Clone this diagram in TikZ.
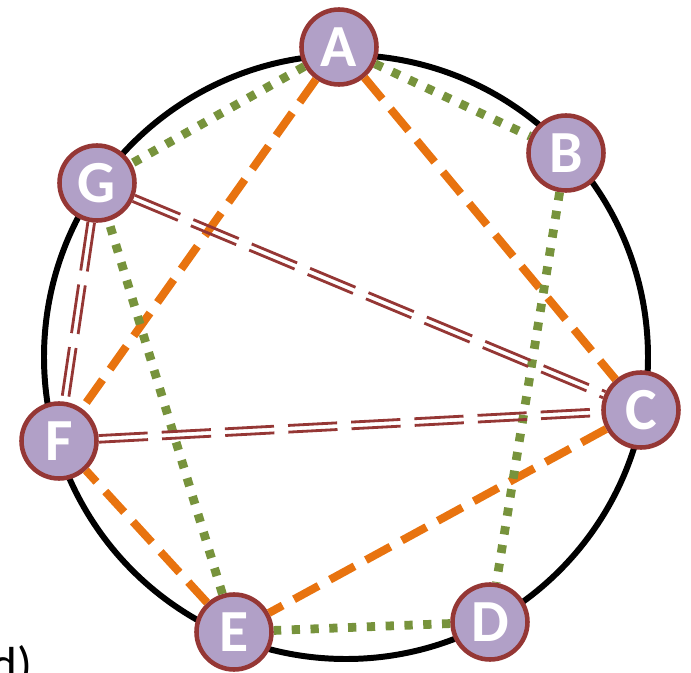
\documentclass[tikz,border=0pt]{standalone}
\usepackage{fontspec}
\setmainfont{Carlito}
\definecolor{ring}{HTML}{000000}
\definecolor{lilac}{HTML}{B1A0C7}
\definecolor{wine}{HTML}{953735}
\definecolor{olive}{HTML}{77933C}
\definecolor{amber}{HTML}{E8730F}
\tikzset{vertex/.style={circle,draw=wine,fill=lilac,line width=2.6pt,minimum size=1.5cm,
 inner sep=0pt,text=white,font=\fontsize{34}{34}\selectfont\bfseries},
 dotted edge/.style={draw=olive,line width=5pt,dash pattern=on 4.7pt off 6pt},
 dashed edge/.style={draw=amber,line width=4.6pt,dash pattern=on 15.9pt off 7.4pt},
 twin line/.style={draw=wine,line width=1.6pt,dash pattern=on 28pt off 8pt},
 twin/.style={postaction={twin line,transform canvas={shift={(#1:1.9pt)}}},
  postaction={twin line,transform canvas={shift={(#1:-1.9pt)}}}}}

\begin{document}
\begin{tikzpicture}[x=0.02cm,y=-0.02cm]
\useasboundingbox (0,0) rectangle (691,673);
\clip (0,0) rectangle (691,673);
\draw[ring,line width=3.4pt] (346,357) circle[radius=302];
\node[vertex] (A) at (339,47) {A};
\node[vertex] (B) at (566,153) {B};
\node[vertex] (C) at (641,410) {C};
\node[vertex] (D) at (490,622) {D};
\node[vertex] (E) at (234,632) {E};
\node[vertex] (F) at (59,441) {F};
\node[vertex] (G) at (97,183) {G};
% orange links
\draw[dashed edge] (A)--(F);\draw[dashed edge] (A)--(C);
\draw[dashed edge] (C)--(E);\draw[dashed edge] (E)--(F);
% green links
\draw[dotted edge] (A)--(G);\draw[dotted edge] (A)--(B);\draw[dotted edge] (B)--(D);
\draw[dotted edge] (D)--(E);\draw[dotted edge] (E)--(G);
% double links
\path[twin=67.4] (G)--(C);
\path[twin=93] (F)--(C);
\path[twin=-8.4] (G)--(F);
\node[anchor=base west,inner sep=0pt,font=\fontsize{28}{28}\selectfont] (lbl) at (-9,681) {d)};
\end{tikzpicture}
\end{document}
